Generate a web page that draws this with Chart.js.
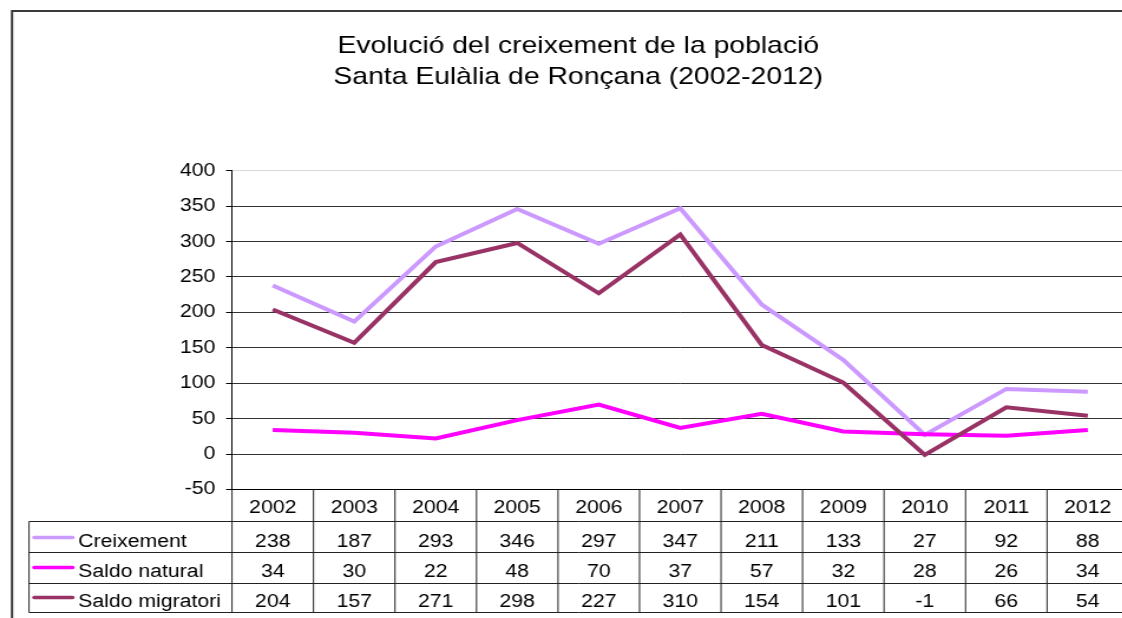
<!DOCTYPE html>
<html>
<head>
<meta charset="utf-8">
<script src="https://cdn.jsdelivr.net/npm/chart.js@4/dist/chart.umd.min.js"></script>
<style>
  html, body { margin: 0; padding: 0; background: #fff; overflow: hidden; }
  /* the original picture is a bit wider than tall, so the whole chart is stretched sideways */
  #wrap { width: 958px; height: 618px; transform: scaleX(1.18); transform-origin: 0 0; }
</style>
</head>
<body>
<div id="wrap"><canvas id="myChart" width="958" height="618"></canvas></div>
<script>
const years = ['2002', '2003', '2004', '2005', '2006', '2007', '2008', '2009', '2010', '2011', '2012'];
const creixement = [238, 187, 293, 346, 297, 347, 211, 133, 27, 92, 88];
const saldoNatural = [34, 30, 22, 48, 70, 37, 57, 32, 28, 26, 34];
const saldoMigratori = [204, 157, 271, 298, 227, 310, 154, 101, -1, 66, 54];

const seriesNames = ['Creixement', 'Saldo natural', 'Saldo migratori'];
const seriesColors = ['#cc99ff', '#ff00ff', '#993366'];
const titleLines = ['Evolució del creixement de la població', 'Santa Eulàlia de Ronçana (2002-2012)'];

const FONT = '"Liberation Sans", Arial, Helvetica, sans-serif';

// table rows under the plot (header with years + one row per series)
const rowLines = [489.5, 521.5, 552.5, 583.5, 612.5];
const textBase = [513, 546.5, 576.5, 606.5];
const legendLineY = [537.5, 567.5, 597.5];

const frameAndTable = {
  id: 'frameAndTable',
  beforeDraw(chart) {
    const ctx = chart.ctx;
    ctx.save();
    ctx.fillStyle = '#fff';
    ctx.fillRect(0, 0, chart.width, chart.height);

    // frame of the sheet (left and top only, the rest is cut off)
    ctx.strokeStyle = '#3a3a3a';
    ctx.lineWidth = 2;
    ctx.beginPath();
    ctx.moveTo(10.2, chart.height);
    ctx.lineTo(10.2, 11);
    ctx.lineTo(chart.width, 11);
    ctx.stroke();

    // title
    ctx.fillStyle = '#000';
    ctx.font = '24px ' + FONT;
    ctx.textAlign = 'center';
    ctx.fillText(titleLines[0], 490, 53);
    ctx.fillText(titleLines[1], 490, 84);
    ctx.restore();
  },
  afterDraw(chart) {
    const ctx = chart.ctx;
    const xs = chart.scales.x;
    const area = chart.chartArea;
    const colW = xs.getPixelForValue(1) - xs.getPixelForValue(0);
    const firstLeft = xs.getPixelForValue(0) - colW / 2;
    const legendLeft = 24.6;
    const series = [creixement, saldoNatural, saldoMigratori];

    ctx.save();
    ctx.strokeStyle = '#222';
    ctx.lineWidth = 1;
    ctx.beginPath();
    for (let r = 1; r < rowLines.length; r++) {
      ctx.moveTo(legendLeft, rowLines[r]);
      ctx.lineTo(area.right, rowLines[r]);
    }
    ctx.moveTo(legendLeft, rowLines[1]);
    ctx.lineTo(legendLeft, rowLines[4]);
    for (let i = 0; i <= years.length; i++) {
      const x = firstLeft + i * colW;
      ctx.moveTo(x, rowLines[0]);
      ctx.lineTo(x, rowLines[4]);
    }
    ctx.stroke();

    ctx.fillStyle = '#000';
    ctx.font = '18px ' + FONT;
    ctx.textAlign = 'center';
    years.forEach((y, i) => {
      ctx.fillText(y, xs.getPixelForValue(i), textBase[0]);
    });
    series.forEach((vals, s) => {
      vals.forEach((v, i) => {
        ctx.fillText(String(v), xs.getPixelForValue(i), textBase[s + 1]);
      });
    });

    // legend keys in the first column
    ctx.lineCap = 'round';
    ctx.lineWidth = 3.5;
    seriesNames.forEach((name, s) => {
      ctx.strokeStyle = seriesColors[s];
      ctx.beginPath();
      ctx.moveTo(29, legendLineY[s]);
      ctx.lineTo(61.5, legendLineY[s]);
      ctx.stroke();
      ctx.textAlign = 'left';
      ctx.fillText(name, 66.3, textBase[s + 1]);
    });
    ctx.restore();
  }
};

const ctx = document.getElementById('myChart').getContext('2d');

new Chart(ctx, {
  type: 'line',
  data: {
    labels: years,
    datasets: [
      { label: seriesNames[0], data: creixement, borderColor: seriesColors[0], order: 2 },
      { label: seriesNames[1], data: saldoNatural, borderColor: seriesColors[1], order: 1 },
      { label: seriesNames[2], data: saldoMigratori, borderColor: seriesColors[2], order: 0 }
    ].map(d => Object.assign(d, {
      borderWidth: 4,
      pointRadius: 0,
      pointHoverRadius: 0,
      tension: 0,
      fill: false,
      borderJoinStyle: 'miter'
    }))
  },
  options: {
    responsive: false,
    animation: false,
    devicePixelRatio: 1,
    layout: {
      padding: { left: 0, top: 170.7, right: 1.6, bottom: 128.5 }
    },
    plugins: {
      legend: { display: false },
      title: { display: false },
      tooltip: { enabled: false }
    },
    scales: {
      x: {
        type: 'category',
        display: false,
        offset: true
      },
      y: {
        min: -50,
        max: 400,
        afterFit: (scale) => { scale.width = 196.6; },
        ticks: {
          stepSize: 50,
          color: '#000',
          padding: 9,
          font: { family: FONT, size: 18 }
        },
        border: { display: true, color: '#000', width: 1 },
        grid: {
          tickLength: 5,
          tickColor: '#000',
          lineWidth: 1,
          color: (c) => {
            if (c.tick.value === 400) return '#d9d9d9';
            if (c.tick.value === -50) return '#000';
            return '#333';
          }
        }
      }
    }
  },
  plugins: [frameAndTable]
});
</script>
</body>
</html>
